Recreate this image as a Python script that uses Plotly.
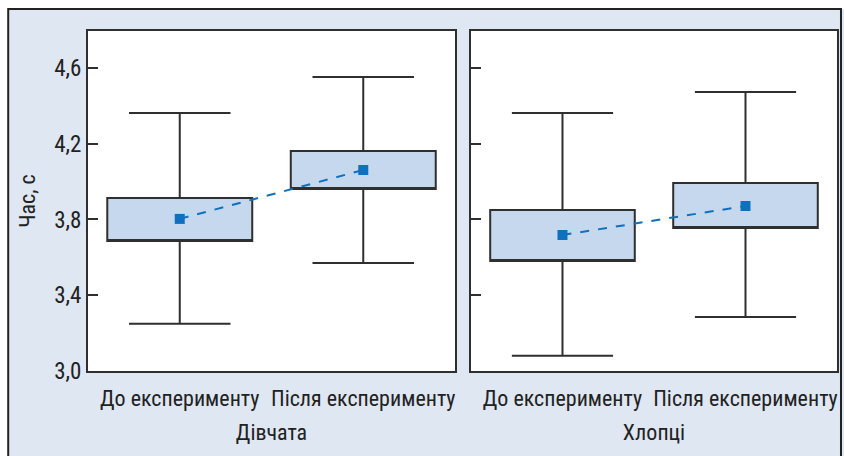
import plotly.graph_objects as go

categories = ["До експерименту", "Після експерименту"]
groups = ["Дівчата", "Хлопці"]

# per group: [До, Після]
lower_whisker = {"Дівчата": [3.25, 3.57], "Хлопці": [3.08, 3.285]}
q1 = {"Дівчата": [3.686, 3.961], "Хлопці": [3.581, 3.755]}
q3 = {"Дівчата": [3.913, 4.162], "Хлопці": [3.850, 3.993]}
upper_whisker = {"Дівчата": [4.362, 4.552], "Хлопці": [4.362, 4.473]}
means = {"Дівчата": [3.803, 4.061], "Хлопці": [3.718, 3.871]}

y_ticks = [3.0, 3.4, 3.8, 4.2, 4.6]
y_tick_labels = ["3,0", "3,4", "3,8", "4,2", "4,6"]

FONT = "Liberation Sans Narrow, Arial Narrow, Roboto Condensed, Liberation Sans, sans-serif"
BG = "#dfe7f3"
BOX_FILL = "#c5d8ee"
LINE = "#2f2f2f"
MEAN = "#0f70bf"
FS = 22

fig = go.Figure()
xpos = [0, 1]
for i, g in enumerate(groups):
    xa = "x" if i == 0 else "x2"
    ya = "y" if i == 0 else "y2"
    fig.add_trace(go.Box(
        x=xpos, q1=q1[g], median=q1[g], q3=q3[g],
        lowerfence=lower_whisker[g], upperfence=upper_whisker[g],
        width=0.79, whiskerwidth=0.7,
        fillcolor=BOX_FILL, line=dict(color=LINE, width=2),
        boxpoints=False, hoverinfo="skip",
        xaxis=xa, yaxis=ya, showlegend=False,
    ))
    fig.add_trace(go.Scatter(
        x=xpos, y=means[g], mode="lines+markers",
        line=dict(color=MEAN, width=2, dash="dash"),
        marker=dict(symbol="square", size=10, color=MEAN),
        xaxis=xa, yaxis=ya, showlegend=False,
    ))

W, H = 844, 456
L, R, T, B = 88, 5, 31, 85
pw = W - L - R
ph = H - T - B

def px_x(p):
    return (p - L) / pw

def px_y(p):
    return (H - B - p) / ph

axis_common = dict(
    showline=True, linecolor=LINE, linewidth=2, mirror=True,
    showgrid=False, zeroline=False,
)
xcommon = dict(axis_common, range=[-0.5, 1.5], tickvals=xpos, ticktext=categories,
               ticks="outside", ticklen=7, tickcolor="rgba(0,0,0,0)",
               tickfont=dict(family=FONT, size=FS, color="#222"))
ycommon = dict(axis_common, range=[3.0, 4.795], tickvals=y_ticks,
               ticks="inside", ticklen=10, tickwidth=2, tickcolor=LINE)

fig.update_layout(
    width=W, height=H,
    margin=dict(l=L, r=R, t=T, b=B),
    paper_bgcolor=BG, plot_bgcolor="white",
    font=dict(family=FONT, size=FS, color="#222"),
    xaxis=dict(xcommon, domain=[0, px_x(456)],
               title=dict(text=groups[0], standoff=14, font=dict(family=FONT, size=FS))),
    xaxis2=dict(xcommon, domain=[px_x(472), 1], anchor="y2",
                title=dict(text=groups[1], standoff=14, font=dict(family=FONT, size=FS))),
    yaxis=dict(ycommon, ticktext=y_tick_labels, tickfont=dict(family=FONT, size=23, color="#222"),
               title=dict(text="Час, с", standoff=12, font=dict(family=FONT, size=22))),
    yaxis2=dict(ycommon, anchor="x2", matches="y", showticklabels=False),
    shapes=[
        dict(type="rect", xref="paper", yref="paper", x0=px_x(-10), x1=px_x(8),
             y0=px_y(470), y1=px_y(-10), fillcolor="white", line=dict(width=0), layer="below"),
        dict(type="rect", xref="paper", yref="paper", x0=px_x(-10), x1=px_x(860),
             y0=px_y(9), y1=px_y(-10), fillcolor="white", line=dict(width=0), layer="below"),
        dict(type="rect", xref="paper", yref="paper", x0=px_x(8), x1=px_x(843),
             y0=px_y(470), y1=px_y(9), line=dict(color="#222", width=2)),
    ],
)

fig.write_html("out.html")
